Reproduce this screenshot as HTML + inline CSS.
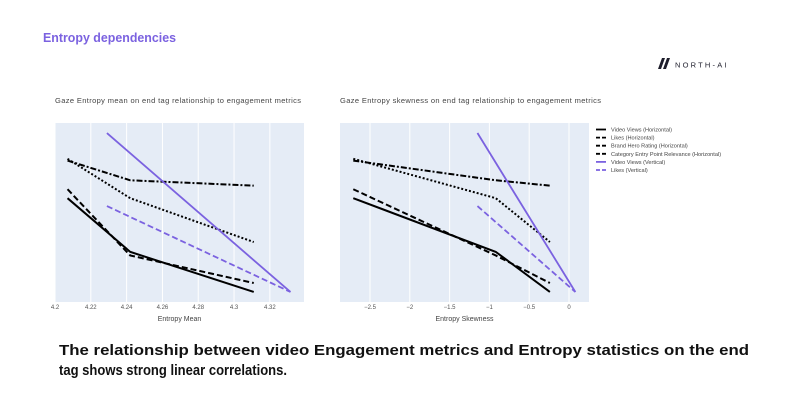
<!DOCTYPE html>
<html><head><meta charset="utf-8"><style>
body{margin:0;background:#fff;width:796px;height:400px;overflow:hidden;font-family:"Liberation Sans",sans-serif}
</style></head><body>
<svg id="root" width="796" height="400" viewBox="0 0 796 400" xmlns="http://www.w3.org/2000/svg" font-family="Liberation Sans, sans-serif">
<text x="43" y="42" font-size="13" font-weight="bold" fill="#7b62e0" textLength="133" lengthAdjust="spacingAndGlyphs">Entropy dependencies</text>
<g>
<path d="M658 69 L662 58 L665 58 L661 69 Z M663 69 L667 58 L670 58 L666 69 Z" fill="#1d1d2b"/>
<text x="675" y="67.5" font-size="7.5" fill="#1d1d2b" letter-spacing="2.2">NORTH-AI</text>
</g>
<text x="55" y="103" font-size="7.5" fill="#444" textLength="246">Gaze Entropy mean on end tag relationship to engagement metrics</text>
<text x="340" y="103" font-size="7.5" fill="#444" textLength="261">Gaze Entropy skewness on end tag relationship to engagement metrics</text>
<g id="left"></g>
<g id="right"></g>
<g id="legend"></g>
<text x="59" y="355" font-size="15" font-weight="bold" fill="#111" textLength="690" lengthAdjust="spacingAndGlyphs">The relationship between video Engagement metrics and Entropy statistics on the end</text>
<text x="59" y="375" font-size="15" font-weight="bold" fill="#111" textLength="228" lengthAdjust="spacingAndGlyphs">tag shows strong linear correlations.</text>
</svg>
<script>
const NS="http://www.w3.org/2000/svg";
const seriesNames=["Video Views (Horizontal)","Likes (Horizontal)","Brand Hero Rating (Horizontal)","Category Entry Point Relevance (Horizontal)","Video Views (Vertical)","Likes (Vertical)"];
const meanXH=[4.207,4.242,4.311];
const meanXV=[4.229,4.3315];
const skewXH=[-2.71,-0.92,-0.24];
const skewXV=[-1.15,0.08];
const viewsH=[0.58,0.28,0.056];
const likesH=[0.63,0.26,0.106];
const brandH=[0.80,0.58,0.335];
const categoryH=[0.79,0.68,0.65];
const viewsV=[0.944,0.056];
const likesV=[0.536,0.056];
const meanTicks=[4.2,4.22,4.24,4.26,4.28,4.3,4.32];
const meanTickLabels=["4.2","4.22","4.24","4.26","4.28","4.3","4.32"];
const skewTicks=[-2.5,-2,-1.5,-1,-0.5,0];
const skewTickLabels=["−2.5","−2","−1.5","−1","−0.5","0"];

const styles=[
 {c:"#000",d:"",w:2},{c:"#000",d:"6,3",w:2},{c:"#000",d:"2,2",w:2},
 {c:"#000",d:"6,2,2,2",w:2},{c:"#7b62e0",d:"",w:1.8},{c:"#7b62e0",d:"6,3",w:1.8}];

function el(t,a,p){const e=document.createElementNS(NS,t);for(const k in a)e.setAttribute(k,a[k]);p.appendChild(e);return e;}

function chart(gid,x0,x1,dmin,dmax,ticks,labels,xH,xV,title){
 const g=document.getElementById(gid);
 const y0=123,y1=302;
 const sx=v=>x0+(v-dmin)/(dmax-dmin)*(x1-x0);
 const sy=v=>y1-v*(y1-y0);
 const bg=el("rect",{x:x0,y:y0,width:x1-x0,height:y1-y0,fill:"#e5ecf6"},g);
 
 
 ticks.forEach((t,i)=>{
  const l=el("line",{x1:sx(t),x2:sx(t),y1:y0,y2:y1,stroke:"#fff","stroke-width":1},g);
  
  
  const tx=el("text",{x:sx(t),y:309,"font-size":6,fill:"#555","text-anchor":"middle"},g);
  tx.textContent=labels[i];
  
  
 });
 const at=el("text",{x:(x0+x1)/2,y:321,"font-size":7,fill:"#444","text-anchor":"middle"},g);
 at.textContent=title;
 
 
 const data=[viewsH,likesH,brandH,categoryH,viewsV,likesV];
 data.forEach((ys,i)=>{
  const xs=i<4?xH:xV;
  const pts=ys.map((v,j)=>sx(xs[j])+","+sy(v)).join(" ");
  const s=styles[i];
  const pl=el("polyline",{points:pts,fill:"none",stroke:s.c,"stroke-width":s.w,"stroke-dasharray":s.d},g);
  
  
 });
}
chart("left",55,304,4.2,4.32+(304-270)/(214/0.12),meanTicks,meanTickLabels,meanXH,meanXV,"Entropy Mean");
chart("right",340,589,-2.5-30/79.6,0+20/79.6,skewTicks,skewTickLabels,skewXH,skewXV,"Entropy Skewness");

const lg=document.getElementById("legend");
seriesNames.forEach((n,i)=>{
 const y=129.5+i*8.1,s=styles[i];
 const l=el("line",{x1:596,x2:606,y1:y,y2:y,stroke:s.c,"stroke-width":1.8,"stroke-dasharray":s.d?"4,2":""},lg);
 
 
 const t=el("text",{x:611,y:y+2,"font-size":5.6,fill:"#444"},lg);
 t.textContent=n;
 
 
});
</script>
</body></html>
